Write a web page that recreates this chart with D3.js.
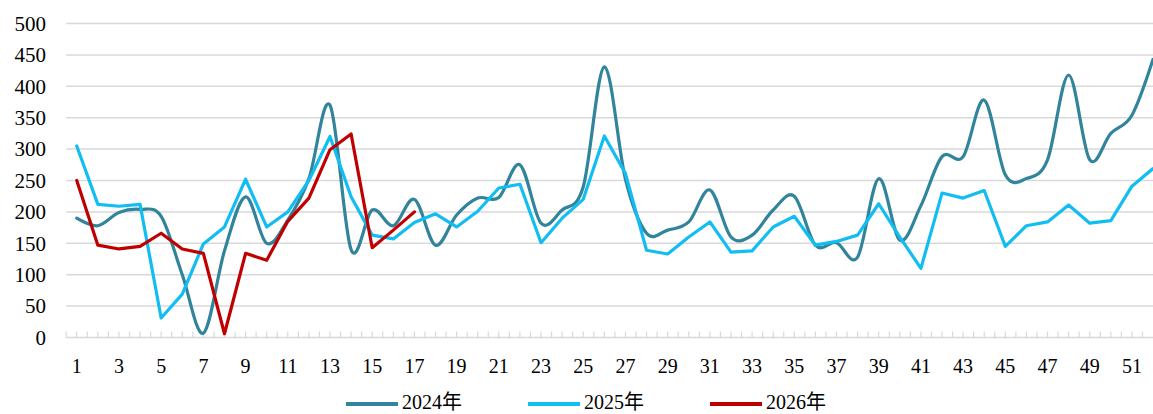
<!DOCTYPE html>
<html>
<head>
<meta charset="utf-8">
<script src="https://cdn.jsdelivr.net/npm/d3@7"></script>
<style>
  html, body { margin: 0; padding: 0; background: #fff; }
  svg { display: block; }
</style>
</head>
<body>
<svg id="chart" width="1153" height="414"></svg>
<script>
const weeks = d3.range(1, 53);
const xTickLabels = weeks.filter(w => w % 2 === 1);
const yTicks = [0, 50, 100, 150, 200, 250, 300, 350, 400, 450, 500];
const seriesNames = ["2024年", "2025年", "2026年"];
const s2024 = [190,178,199,204,193,100,7,138,224,150,187,253,370,140,203,178,220,147,195,222,223,275,182,203,240,431,252,166,171,184,235,160,163,203,225,147,151,128,253,155,210,288,288,378,259,253,283,418,283,325,354,443];
const s2025 = [305,212,209,212,31,69,149,176,252,176,200,250,320,224,163,157,183,197,176,201,238,244,151,190,220,321,261,139,133,160,184,136,138,176,193,147,153,163,213,160,110,230,222,234,145,178,184,211,182,186,241,269];
const s2026 = [250,147,141,145,166,141,134,6,134,123,185,222,299,324,143,171,200];

const colors = ["#31849B", "#12BDF2", "#C00000"];
const W = 1153, H = 414;
const svg = d3.select("#chart");
const font = "'Liberation Serif', 'Times New Roman', 'Noto Sans CJK SC', serif";

const x = d3.scalePoint().domain(weeks).range([66.2, 1163.6]).padding(0.5);
const y = d3.scaleLinear().domain([0, 500]).range([337.5, 23.5]);
const step = x.step();
const plotLeft = 66.2;

// gridlines
svg.append("g").selectAll("line").data(yTicks.filter(t => t > 0)).join("line")
  .attr("x1", plotLeft).attr("x2", W)
  .attr("y1", d => y(d)).attr("y2", d => y(d))
  .attr("stroke", "#D9D9D9").attr("stroke-width", 1.5);

// x axis line + ticks
svg.append("line").attr("x1", plotLeft).attr("x2", W)
  .attr("y1", y(0)).attr("y2", y(0))
  .attr("stroke", "#D9D9D9").attr("stroke-width", 1.5);
const tickXs = d3.range(0, 105).map(i => plotLeft + i * step / 2).filter(v => v <= W);
svg.append("g").selectAll("line").data(tickXs).join("line")
  .attr("x1", d => d).attr("x2", d => d)
  .attr("y1", y(0)).attr("y2", y(0) - 6)
  .attr("stroke", "#D9D9D9").attr("stroke-width", 1.2);

// y labels
svg.append("g").selectAll("text").data(yTicks).join("text")
  .attr("x", 46).attr("y", d => y(d))
  .attr("dy", "0.35em")
  .attr("text-anchor", "end")
  .attr("font-family", font).attr("font-size", 21)
  .attr("fill", "#000")
  .text(d => d);

// x labels
svg.append("g").selectAll("text").data(xTickLabels).join("text")
  .attr("x", d => x(d)).attr("y", 373)
  .attr("text-anchor", "middle")
  .attr("font-family", font).attr("font-size", 20)
  .attr("fill", "#000")
  .text(d => d);

// lines
const mk = arr => arr.map((v, i) => [weeks[i], v]);
const smooth = d3.line().x(d => x(d[0])).y(d => y(d[1])).curve(d3.curveCardinal.tension(0));
const straight = d3.line().x(d => x(d[0])).y(d => y(d[1]));

svg.append("defs").append("clipPath").attr("id", "clip")
  .append("rect").attr("x", 0).attr("y", 0).attr("width", W).attr("height", H);

const g = svg.append("g").attr("clip-path", "url(#clip)");
g.append("path").attr("d", smooth(mk(s2024))).attr("fill", "none")
  .attr("stroke", colors[0]).attr("stroke-width", 3.2).attr("stroke-linejoin", "round").attr("stroke-linecap", "round");
g.append("path").attr("d", straight(mk(s2025))).attr("fill", "none")
  .attr("stroke", colors[1]).attr("stroke-width", 3.2).attr("stroke-linejoin", "round").attr("stroke-linecap", "round");
g.append("path").attr("d", straight(mk(s2026))).attr("fill", "none")
  .attr("stroke", colors[2]).attr("stroke-width", 3.2).attr("stroke-linejoin", "round").attr("stroke-linecap", "round");

// legend
const legendX = [346, 528, 710];
const lg = svg.append("g");
seriesNames.forEach((name, i) => {
  lg.append("line").attr("x1", legendX[i]).attr("x2", legendX[i] + 52)
    .attr("y1", 404).attr("y2", 404)
    .attr("stroke", colors[i]).attr("stroke-width", 4);
  lg.append("text").attr("x", legendX[i] + 56).attr("y", 409)
    .attr("font-family", font).attr("font-size", 20).attr("fill", "#000")
    .text(name);
});
</script>
</body>
</html>
